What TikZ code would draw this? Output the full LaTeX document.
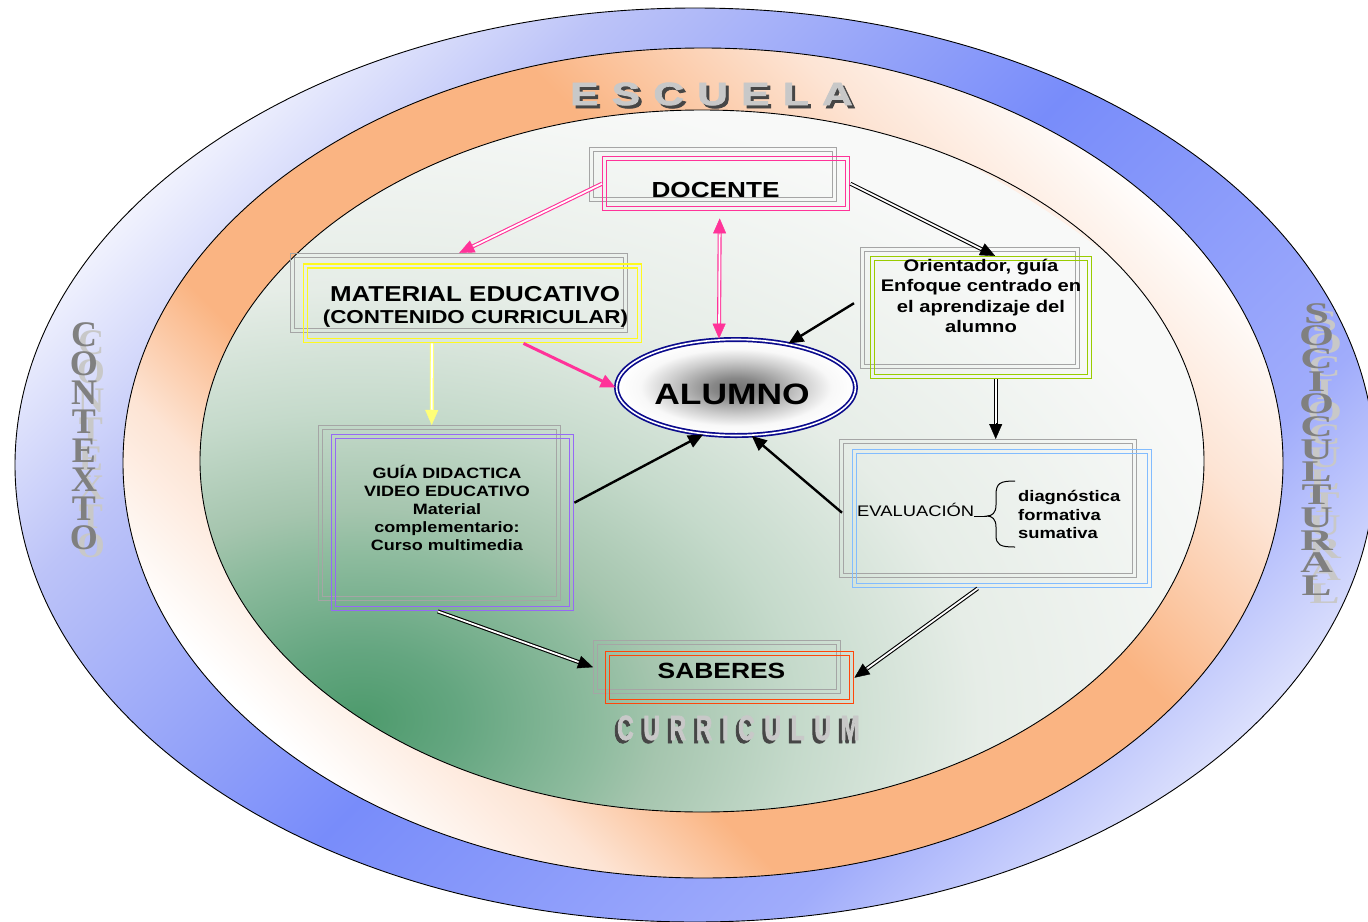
\documentclass[tikz,border=0pt]{standalone}
\usepackage{fontspec}
\usetikzlibrary{shapes.geometric,arrows.meta,calc}
\setmainfont{Liberation Sans}
\newfontfamily\boxfont{Liberation Sans}[FakeStretch=1.2]
\newfontfamily\escfont{Liberation Sans}[FakeStretch=1.32,LetterSpace=42,FakeBold=2.5]
\newfontfamily\curfont{Liberation Sans}[FakeStretch=0.65,LetterSpace=28,FakeBold=2]
\newfontfamily\serfont{Liberation Serif}
\newfontfamily\socfont{Liberation Serif}[FakeStretch=1.5]

\definecolor{pinkc}{RGB}{255,51,153}
\definecolor{yelc}{RGB}{255,250,30}
\definecolor{yelarr}{RGB}{255,255,120}
\definecolor{grnc}{RGB}{153,204,0}
\definecolor{purc}{RGB}{150,105,245}
\definecolor{ltbl}{RGB}{130,188,255}
\definecolor{redc}{RGB}{255,70,10}
\definecolor{navyc}{RGB}{10,10,140}
\definecolor{frameg}{RGB}{165,165,165}
\definecolor{bl0}{RGB}{236,238,253}
\definecolor{bl1}{RGB}{160,172,251}
\definecolor{bl2}{RGB}{120,140,250}
\definecolor{bl3}{RGB}{188,195,248}
\definecolor{or0}{RGB}{253,228,212}
\definecolor{or1}{RGB}{250,180,130}
\definecolor{g0}{RGB}{77,154,108}
\definecolor{g01}{RGB}{100,166,128}
\definecolor{g1}{RGB}{143,188,159}
\definecolor{g2}{RGB}{165,197,174}
\definecolor{g3}{RGB}{197,218,203}
\definecolor{g4}{RGB}{230,237,231}
\definecolor{g5}{RGB}{248,249,248}
\definecolor{al0}{RGB}{115,115,115}
\definecolor{al1}{RGB}{135,135,135}
\definecolor{al2}{RGB}{205,205,205}
\definecolor{al3}{RGB}{248,248,248}
\definecolor{escfront}{RGB}{200,200,200}
\definecolor{escshadow}{RGB}{70,70,70}
\definecolor{ctxmain}{RGB}{128,128,128}
\definecolor{ctxghost}{RGB}{200,200,200}

\pgfdeclareverticalshading{bluering}{100bp}{color(0bp)=(white); color(22bp)=(bl0); color(33bp)=(bl1); color(50bp)=(bl2); color(67bp)=(bl3); color(78bp)=(white); color(100bp)=(white)}
\pgfdeclareverticalshading{orring}{100bp}{color(0bp)=(white); color(25bp)=(white); color(32bp)=(or0); color(38bp)=(or1); color(58bp)=(or1); color(68bp)=(or0); color(76bp)=(white); color(100bp)=(white)}
\pgfdeclareradialshading{greenin}{\pgfpoint{0bp}{0bp}}{color(0bp)=(g0); color(2.5bp)=(g01); color(6bp)=(g1); color(7.5bp)=(g2); color(11bp)=(g3); color(15.5bp)=(g4); color(23bp)=(g5); color(50bp)=(g5)}
\pgfdeclareradialshading{alum}{\pgfpoint{0bp}{0bp}}{color(0bp)=(al0); color(5bp)=(al1); color(14bp)=(al2); color(20bp)=(al3); color(25bp)=(white); color(50bp)=(white)}

\tikzset{
  frame/.style={draw=#1, line width=\framelw, rectangle, inner sep=0pt, anchor=north west,
    path picture={\draw[#1, line width=\framelw] ([shift={(4pt,-4pt)}]path picture bounding box.north west) rectangle ([shift={(-4pt,4pt)}]path picture bounding box.south east);}},
  dshaft/.style={double=white, double distance=1.8pt, line width=1.1pt},
  tipT/.style={-{Triangle[length=15pt,width=13pt]}, line width=0.4pt},
  sarrow/.style={line width=2.4pt, -{Triangle[length=15pt,width=13pt]}},
  boxtxt/.style={font=\boxfont\bfseries\fontsize{#1}{#1}\selectfont},
}
\newcommand\framelw{1.4pt}
\newcommand\dblarrow[3]{%
  \draw[#1, dshaft, shorten >=12pt] #2 -- #3;
  \draw[#1, tipT] ($#3!16pt!#2$) -- #3;
}
\newcommand\dbltwo[3]{%
  \draw[#1, dshaft, shorten >=12pt, shorten <=12pt] #2 -- #3;
  \draw[#1, tipT] ($#3!16pt!#2$) -- #3;
  \draw[#1, tipT] ($#2!16pt!#3$) -- #2;
}

\begin{document}
\begin{tikzpicture}[x=1pt,y=-1pt]
\useasboundingbox (0,0) rectangle (1368,921);
\clip (0,0) rectangle (1368,921);
\fill[white] (0,0) rectangle (1368,921);

% rings
\shadedraw[shading=bluering, shading angle=45, line width=0.9pt] (695,465) ellipse [x radius=680pt, y radius=457pt];
\shadedraw[shading=orring, shading angle=-45, line width=0.9pt] (703,463) ellipse [x radius=580pt, y radius=415pt];
\begin{scope}
  \clip (702,461) ellipse [x radius=502pt, y radius=351pt];
  \shade[shading=greenin] (360,720) ellipse [x radius=1000pt, y radius=700pt];
\end{scope}
\draw[line width=0.9pt] (702,461) ellipse [x radius=502pt, y radius=351pt];

% ring labels
\node[anchor=base west, inner sep=0pt, font=\escfont\bfseries\fontsize{32}{32}\selectfont, text=escshadow] (escS) at (573,108) {ESCUELA};
\node[anchor=base west, inner sep=0pt, font=\escfont\bfseries\fontsize{32}{32}\selectfont, text=escfront] (esc) at (570,105) {ESCUELA};
\node[anchor=base west, inner sep=0pt, font=\curfont\bfseries\fontsize{35}{35}\selectfont, text=escshadow] (curS) at (614,743) {CURRICULUM};
\node[anchor=base west, inner sep=0pt, font=\curfont\bfseries\fontsize{35}{35}\selectfont, text=escfront] (cur) at (617,740) {CURRICULUM};

\node[anchor=north, align=center, inner sep=0pt, font=\serfont\bfseries\fontsize{36}{29}\selectfont, text=ctxghost] (ctxS) at (91,330) {C\\O\\N\\T\\E\\X\\T\\O};
\node[anchor=north, align=center, inner sep=0pt, font=\serfont\bfseries\fontsize{36}{29}\selectfont, text=ctxmain] (ctx) at (84,322) {C\\O\\N\\T\\E\\X\\T\\O};
\node[anchor=north, align=center, inner sep=0pt, font=\socfont\bfseries\fontsize{30}{22.7}\selectfont, text=ctxghost] (socS) at (1324.5,311) {S\\O\\C\\I\\O\\C\\U\\L\\T\\U\\R\\A\\L};
\node[anchor=north, align=center, inner sep=0pt, font=\socfont\bfseries\fontsize{30}{22.7}\selectfont, text=ctxmain] (soc) at (1316.5,303) {S\\O\\C\\I\\O\\C\\U\\L\\T\\U\\R\\A\\L};

% boxes
\node[frame=frameg, minimum width=247pt, minimum height=54pt] (docA) at (589,147) {};
\node[frame=pinkc, minimum width=247pt, minimum height=54pt] (docB) at (602,156) {};
\node[frame=frameg, minimum width=337pt, minimum height=79pt] (matA) at (290,253) {};
\renewcommand\framelw{1.9pt}
\node[frame=yelc, minimum width=338pt, minimum height=78.5pt] (matB) at (302.5,263) {};
\renewcommand\framelw{1.4pt}
\node[frame=frameg, minimum width=219pt, minimum height=121pt] (oriA) at (860,247) {};
\node[frame=grnc, minimum width=221pt, minimum height=122pt] (oriB) at (870,256) {};
\node[frame=frameg, minimum width=242pt, minimum height=175pt] (guiA) at (318,425) {};
\node[frame=purc, minimum width=242pt, minimum height=176pt] (guiB) at (331,434) {};
\node[frame=frameg, minimum width=297pt, minimum height=138pt] (evaA) at (839,439) {};
\node[frame=ltbl, minimum width=299pt, minimum height=138pt] (evaB) at (852,449) {};
\node[frame=frameg, minimum width=247pt, minimum height=53pt] (sabA) at (593,640) {};
\node[frame=redc, minimum width=248pt, minimum height=52pt] (sabB) at (605,651) {};

\node[ellipse, shade, shading=alum, draw=navyc, double=white, double distance=1.6pt, line width=1.7pt, minimum width=239pt, minimum height=96pt, inner sep=0pt] (alumno) at (736,387.5) {};

% texts
\node[anchor=base, boxtxt=21.8] (docT) at (715.5,197) {DOCENTE};
\node[anchor=base, boxtxt=21.6] (matT1) at (475,301) {MATERIAL EDUCATIVO};
\node[anchor=base, boxtxt=18.7] (matT2) at (475.5,323) {(CONTENIDO CURRICULAR)};
\node[align=center, font=\boxfont\bfseries\fontsize{16.8}{20.3}\selectfont] (oriT) at (981,296) {Orientador, guía\\Enfoque centrado en\\el aprendizaje del\\alumno};
\node[align=center, font=\boxfont\bfseries\fontsize{15}{18}\selectfont] (guiT) at (447,508) {GUÍA DIDACTICA\\VIDEO EDUCATIVO\\Material\\complementario:\\Curso multimedia};
\node[anchor=base west, inner sep=0pt, font=\boxfont\fontsize{15.3}{18}\selectfont] (evaT) at (857,516) {EVALUACIÓN};
\node[anchor=west, inner sep=0pt, align=left, font=\boxfont\bfseries\fontsize{15.3}{18.2}\selectfont] (evaL) at (1018,514.5) {diagnóstica\\formativa\\sumativa};
\node[anchor=base, boxtxt=22] (sabT) at (721.5,678) {SABERES};
\node[anchor=base, boxtxt=29.5] (aluT) at (732,404) {ALUMNO};

% brace
\coordinate (brTip) at (987,516);
\draw[line width=1pt] (evaT.base east) -- (brTip);
\draw[line width=1pt] (1015,481) .. controls (1000,481) and (996,483) .. (996,495) -- (996,505) .. controls (996,513) and (992,516) .. (brTip) .. controls (992,516) and (996,519) .. (996,527) -- (996,535) .. controls (996,545) and (1000,547) .. (1015,547);

% connectors
\dblarrow{pinkc}{(docB.west)}{(matA.north)}
\dbltwo{pinkc}{([xshift=-6.5pt,yshift=-7pt]docB.south)}{([xshift=-17pt]alumno.north)}
\draw[pinkc, line width=3pt, -{Triangle[length=15pt,width=13pt]}] ([xshift=51pt]matB.south) -- (alumno.west);
\dblarrow{yelarr}{([xshift=-40.5pt]matB.south)}{([xshift=-8pt]guiA.north)}
\dblarrow{black}{(docB.east)}{([xshift=14pt]oriB.north)}
\draw[sarrow] ([xshift=-6pt,yshift=5pt]oriA.west) -- (alumno.40);
\dblarrow{black}{([xshift=14.5pt]oriB.south)}{([xshift=7.5pt]evaA.north)}
\draw[sarrow] ([xshift=3pt,yshift=-4pt]evaA.west) -- (alumno.-72);
\draw[sarrow] ([yshift=20pt]guiB.east) -- (alumno.-125);
\dblarrow{black}{([xshift=-15pt]guiB.south)}{(sabA.west)}
\dblarrow{black}{([xshift=-24.5pt]evaB.south)}{(sabB.east)}
\end{tikzpicture}
\end{document}
